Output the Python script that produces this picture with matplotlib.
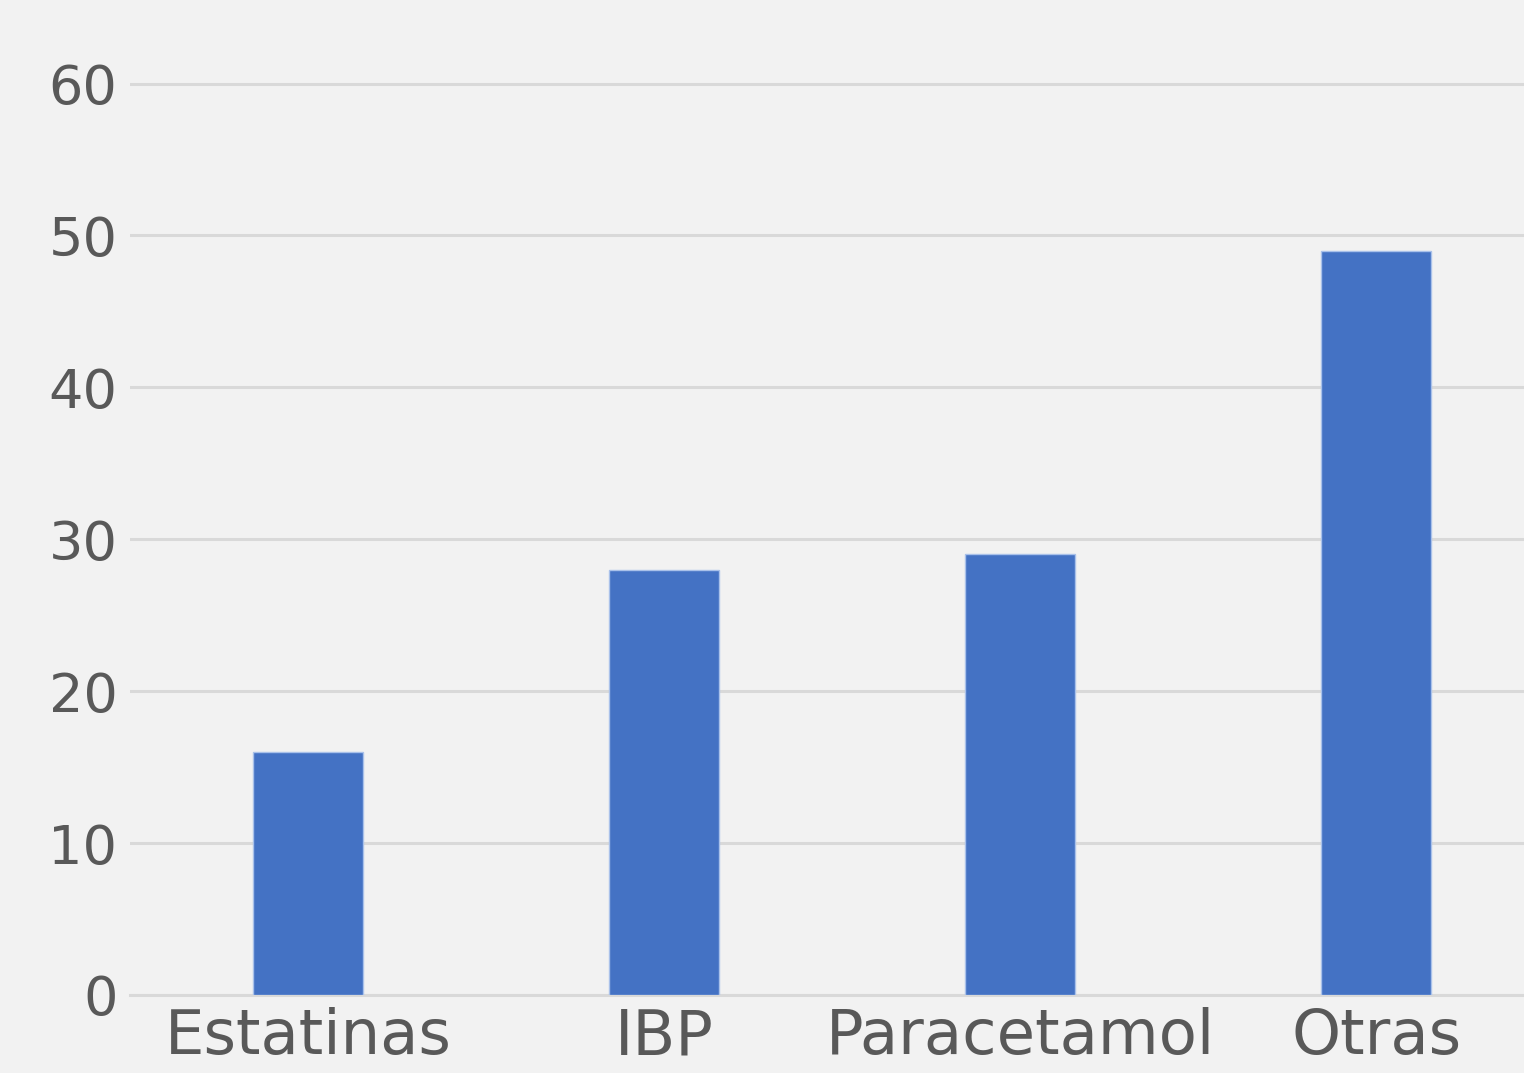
import numpy as np
import matplotlib
matplotlib.use('Agg')
import matplotlib.pyplot as plt

# Data
categories = ['Estatinas', 'IBP', 'Paracetamol', 'Otras']
values = [16, 28, 29, 49]
yticks = [0, 10, 20, 30, 40, 50, 60]

bg = '#f2f2f2'
bar_color = '#4472c4'
grid_color = '#d9d9d9'
text_color = '#595959'

fig = plt.figure(figsize=(15.24, 10.73), dpi=100, facecolor=bg)
ax = fig.add_axes([0.0853, 0.0727, 0.9147, 0.9273])
ax.set_facecolor(bg)

x = np.arange(len(categories))
ax.bar(x, values, width=0.31, color=bar_color, edgecolor='#a9c1ea',
       linewidth=1.0, zorder=3)

ax.set_xlim(-0.5, 3.415)
ax.set_ylim(0, 65.5)
ax.set_yticks(yticks)
ax.set_xticks(x)
ax.set_xticklabels(categories)

ax.grid(axis='y', color=grid_color, lw=2.2, zorder=0)
ax.axhline(0, color=grid_color, lw=2.2, zorder=1, clip_on=False)
ax.set_axisbelow(True)
for s in ax.spines.values():
    s.set_visible(False)

ax.tick_params(axis='y', length=0, pad=9, labelsize=39, labelcolor=text_color)
ax.tick_params(axis='x', length=0, pad=9, labelsize=45, labelcolor=text_color)

plt.savefig('out.png', dpi=100, facecolor=bg)
